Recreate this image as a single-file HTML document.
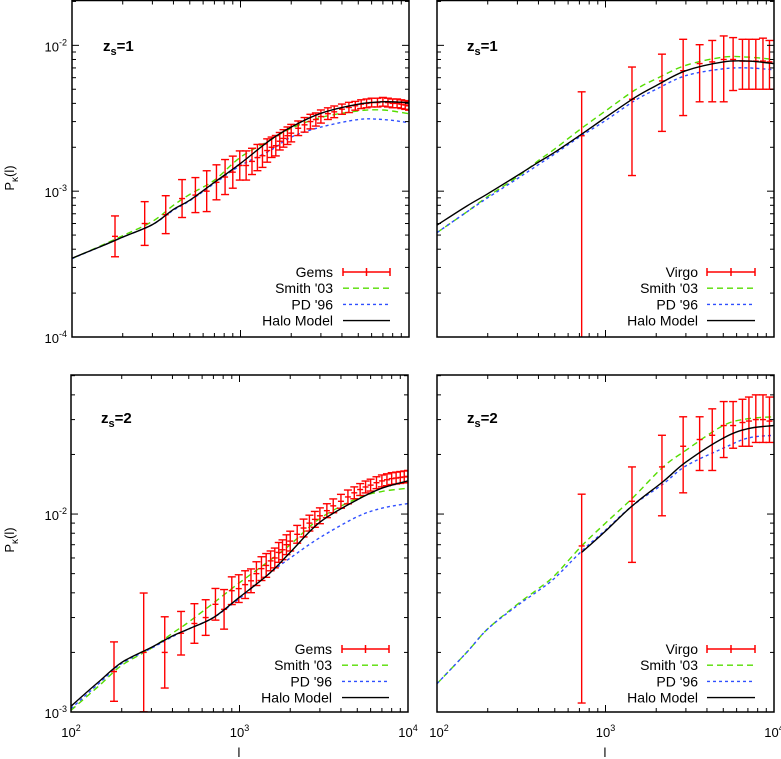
<!DOCTYPE html>
<html><head><meta charset="utf-8">
<style>
html,body{margin:0;padding:0;background:#fff;}
svg{display:block;font-family:"Liberation Sans",sans-serif;}
</style></head>
<body>
<svg id="fig" width="781" height="759" viewBox="0 0 781 759" xmlns="http://www.w3.org/2000/svg"></svg>
<script>
// ---------- data ----------
const modelL = [100,150,200,300,400,500,700,1000,1500,2000,3000,5000,7000,10000];
// top-left (z=1, Gems)
const tlHalo  = [3.47e-4,4.2e-4,4.84e-4,5.9e-4,7.5e-4,8.67e-4,1.15e-3,1.55e-3,2.24e-3,2.75e-3,3.42e-3,3.95e-3,4.1e-3,4.05e-3];
const tlSmith = [3.45e-4,4.25e-4,4.95e-4,6.2e-4,8.0e-4,9.5e-4,1.19e-3,1.71e-3,2.24e-3,2.7e-3,3.2e-3,3.55e-3,3.6e-3,3.4e-3];
const tlPD    = [3.45e-4,4.2e-4,4.84e-4,5.9e-4,7.4e-4,8.6e-4,1.13e-3,1.5e-3,1.9e-3,2.35e-3,2.75e-3,3.1e-3,3.1e-3,2.95e-3];
// bottom-left (z=2, Gems)
const blHalo  = [1.07e-3,1.45e-3,1.78e-3,2.12e-3,2.42e-3,2.63e-3,3.0e-3,3.8e-3,5.0e-3,6.4e-3,9.1e-3,1.18e-2,1.35e-2,1.47e-2];
const blSmith = [1.02e-3,1.38e-3,1.72e-3,2.1e-3,2.5e-3,2.85e-3,3.55e-3,4.5e-3,5.8e-3,7.0e-3,9.5e-3,1.2e-2,1.3e-2,1.35e-2];
const blPD    = [1.04e-3,1.42e-3,1.76e-3,2.1e-3,2.4e-3,2.63e-3,3.0e-3,3.75e-3,5.0e-3,6.0e-3,7.6e-3,9.7e-3,1.07e-2,1.13e-2];
// top-right (z=1, Virgo)
const trHalo  = [5.85e-4,7.9e-4,9.6e-4,1.28e-3,1.58e-3,1.85e-3,2.4e-3,3.2e-3,4.4e-3,5.3e-3,6.7e-3,7.7e-3,7.8e-3,7.5e-3];
const trSmith = [5.2e-4,7.2e-4,9.2e-4,1.25e-3,1.62e-3,1.95e-3,2.63e-3,3.55e-3,4.95e-3,5.9e-3,7.3e-3,8.3e-3,8.3e-3,8.0e-3];
const trPD    = [5.2e-4,7.2e-4,9.0e-4,1.22e-3,1.52e-3,1.8e-3,2.35e-3,3.05e-3,4.2e-3,5.0e-3,6.2e-3,6.9e-3,7.0e-3,6.8e-3];
// bottom-right (z=2, Virgo); halo model starts at l=722
const brModelL = [100,150,200,300,400,500,722,1000,1440,2200,3000,5000,7000,10000];
const brSmith = [1.39e-3,2.0e-3,2.63e-3,3.5e-3,4.2e-3,4.9e-3,6.9e-3,9.0e-3,1.2e-2,1.73e-2,2.1e-2,2.8e-2,3.03e-2,3.1e-2];
const brPD    = [1.39e-3,2.0e-3,2.63e-3,3.45e-3,4.1e-3,4.75e-3,6.5e-3,8.3e-3,1.1e-2,1.42e-2,1.75e-2,2.15e-2,2.42e-2,2.5e-2];
const brHaloL = [722,1000,1440,2200,3000,5000,7000,10000];
const brHalo  = [6.4e-3,8.2e-3,1.1e-2,1.46e-2,1.83e-2,2.42e-2,2.7e-2,2.8e-2];

const gemsL = [180,270,360,450,540,630,720,810,900,990,1080,1170,1260,1350,1440,1530,1620,1710,1800,1900,2000,2200,2400,2600,2800,3000,3300,3600,4000,4400,4800,5200,5600,6000,6500,7000,7500,8000,8500,9000,9500,10000];
const gemsTop = [0.49,0.60,0.69,0.89,0.94,1.0,1.15,1.25,1.35,1.5,1.5,1.6,1.7,1.75,1.9,2.0,2.05,2.2,2.3,2.4,2.5,2.7,2.85,3.0,3.1,3.25,3.4,3.5,3.65,3.75,3.85,3.95,4.0,4.05,4.05,4.1,4.05,4.0,4.0,3.95,3.9,3.85];
const gemsTopErr = [.14,.15,.13,.13,.12,.14,.12,.12,.11,.1,.1,.09,.09,.08,.08,.07,.07,.06,.06,.06,.06,.05,.05,.05,.045,.045,.04,.04,.035,.035,.03,.03,.03,.03,.03,.03,.03,.03,.03,.03,.03,.03];
const gemsBot = [1.6,2.0,2.0,2.5,2.8,3.0,3.5,3.3,4.1,4.2,4.4,4.6,5.0,5.3,5.5,5.8,6.0,6.4,6.6,7.0,7.3,7.9,8.5,9.0,9.4,9.8,10.4,11.0,11.6,12.2,12.8,13.3,13.7,14.0,14.4,14.7,14.9,15.1,15.2,15.3,15.4,15.5];
const gemsBotErr = [.15,.3,.18,.11,.1,.09,.08,.1,.07,.07,.07,.06,.06,.06,.06,.05,.05,.05,.05,.05,.05,.045,.045,.04,.04,.04,.035,.035,.035,.035,.03,.03,.03,.03,.03,.03,.03,.03,.03,.03,.03,.03];

const virgoL = [722,1436,2163,2890,3620,4300,5030,5720,6500,7100,7800,8600,9400];
const virgoTop = [2.4e-3,4.27e-3,5.7e-3,6.7e-3,7.5e-3,7.7e-3,8.0e-3,8.0e-3,7.8e-3,7.8e-3,7.8e-3,7.8e-3,7.7e-3];
const virgoTopHi = [4.8e-3,7.1e-3,8.7e-3,1.1e-2,1.01e-2,1.08e-2,1.16e-2,1.13e-2,1.1e-2,1.1e-2,1.1e-2,1.12e-2,1.08e-2];
const virgoTopLo = [5e-5,1.28e-3,2.57e-3,3.3e-3,4.1e-3,4.1e-3,4.1e-3,4.9e-3,5.0e-3,5.0e-3,5.0e-3,5.0e-3,5.0e-3];
const virgoBot = [6.9e-3,1.16e-2,1.73e-2,2.2e-2,2.38e-2,2.5e-2,2.8e-2,2.8e-2,2.9e-2,2.95e-2,3.0e-2,3.0e-2,2.95e-2];
const virgoBotHi = [1.26e-2,1.73e-2,2.5e-2,3.1e-2,3.1e-2,3.4e-2,3.7e-2,3.7e-2,3.8e-2,3.9e-2,4.0e-2,4.0e-2,3.9e-2];
const virgoBotLo = [1.11e-3,5.7e-3,9.8e-3,1.28e-2,1.66e-2,1.66e-2,1.93e-2,2.15e-2,2.2e-2,2.2e-2,2.3e-2,2.3e-2,2.3e-2];

const xTickLabels = ["2","3","4"];
const yTickTop = ["-4","-3","-2"];
const yTickBot = ["-3","-2"];

// ---------- drawing ----------
const NS = "http://www.w3.org/2000/svg";
const svg = document.getElementById('fig');
function mk(tag, attrs, parent){
  const e = document.createElementNS(NS, tag);
  for (const k in attrs) e.setAttribute(k, attrs[k]);
  (parent||svg).appendChild(e);
  return e;
}
const RED="#ff0000", GREEN="#55dd00", BLUE="#2f4fff";

function panel(id, x0, x1, y0, y1, ymin, ymax){
  const g = mk('g', {});
  
  
  const lx0=2, lx1=4, ly0=Math.log10(ymin), ly1=Math.log10(ymax);
  const X = l => x0 + (Math.log10(l)-lx0)/(lx1-lx0)*(x1-x0);
  const Y = v => y1 - (Math.log10(v)-ly0)/(ly1-ly0)*(y1-y0);
  const cp = mk('clipPath', {id:'cp-'+id}, g);
  mk('rect', {x:x0, y:y0, width:x1-x0, height:y1-y0}, cp);
  const plot = mk('g', {'clip-path':'url(#cp-'+id+')'}, g);
  const tk = mk('g', {stroke:'#000','stroke-width':1}, g);
  
  
  for (let d=2; d<=4; d++) for (let m=1; m<=9; m++){
    const l=m*Math.pow(10,d); if (l>10000) break;
    const x=X(l), len = m===1?7:4;
    mk('line',{x1:x,x2:x,y1:y1,y2:y1-len},tk);
    mk('line',{x1:x,x2:x,y1:y0,y2:y0+len},tk);
  }
  for (let d=Math.floor(ly0); d<=Math.ceil(ly1); d++) for (let m=1; m<=9; m++){
    const v=m*Math.pow(10,d);
    if (v<ymin*0.999 || v>ymax) continue;
    const y=Y(v), len = m===1?7:4;
    mk('line',{x1:x0,x2:x0+len,y1:y,y2:y},tk);
    mk('line',{x1:x1,x2:x1-len,y1:y,y2:y},tk);
  }
  mk('rect',{x:x0,y:y0,width:x1-x0,height:y1-y0,fill:'none',stroke:'#000','stroke-width':1.5},g);
  return {g, plot, X, Y};
}
function curve(p, name, L, V, color, dash){
  const P = L.map((l,i)=>[p.X(l), p.Y(V[i])]);
  let d = 'M'+P[0][0].toFixed(1)+','+P[0][1].toFixed(1);
  for (let i=0;i<P.length-1;i++){
    const p0=P[Math.max(0,i-1)], p1=P[i], p2=P[i+1], p3=P[Math.min(P.length-1,i+2)];
    const c1=[p1[0]+(p2[0]-p0[0])/6, p1[1]+(p2[1]-p0[1])/6];
    const c2=[p2[0]-(p3[0]-p1[0])/6, p2[1]-(p3[1]-p1[1])/6];
    d += ' C'+c1.map(v=>v.toFixed(1)).join(',')+' '+c2.map(v=>v.toFixed(1)).join(',')+' '+p2.map(v=>v.toFixed(1)).join(',');
  }
  const pl = mk('path',{d:d,fill:'none',stroke:color,'stroke-width':1.4,'stroke-dasharray':dash||'none','stroke-linejoin':'round'},p.plot);
  
  
}
function errbars(p, name, L, V, lo, hi){
  const g = mk('g',{stroke:RED,'stroke-width':1.4},p.plot);
  
  
  L.forEach((l,i)=>{
    const x=p.X(l), yc=p.Y(V[i]), yh=p.Y(hi[i]), yl=p.Y(lo[i]);
    mk('line',{x1:x,x2:x,y1:yh,y2:yl},g);
    mk('line',{x1:x-4,x2:x+4,y1:yh,y2:yh},g);
    mk('line',{x1:x-4,x2:x+4,y1:yl,y2:yl},g);
    mk('line',{x1:x-3,x2:x+3,y1:yc,y2:yc},g);
  });
}
function legend(dataLabel, textX, y0, lineX0, lineX1){
  const g = mk('g',{});
  
  
  const labels=[dataLabel,"Smith '03","PD '96","Halo Model"];
  labels.forEach((t,i)=>{
    const y=y0+i*16.2;
    const tx = mk('text',{x:textX,y:y+5,'text-anchor':'end','font-size':14,fill:'#000'},g);
    tx.textContent=t;
    
    
    if (i===0){
      mk('line',{x1:lineX0,x2:lineX1,y1:y,y2:y,stroke:RED,'stroke-width':1.5},g);
      [lineX0,(lineX0+lineX1)/2,lineX1].forEach(x=>mk('line',{x1:x,x2:x,y1:y-4,y2:y+4,stroke:RED,'stroke-width':1.5},g));
    } else {
      const c=[null,GREEN,BLUE,'#000'][i], d=[null,'6,4','3,3','none'][i];
      mk('line',{x1:lineX0,x2:lineX1,y1:y,y2:y,stroke:c,'stroke-width':1.4,'stroke-dasharray':d},g);
    }
  });
}
function zlabel(x,y,n){
  const t = mk('text',{x:x,y:y,'font-size':15,'font-weight':'bold'});
  
  
  t.innerHTML = 'z<tspan font-size="11" dy="4">s</tspan><tspan dy="-4">='+n+'</tspan>';
}
function ylab(x,y,exp){
  const t = mk('text',{x:x,y:y,'font-size':13,'text-anchor':'end'});
  
  
  t.innerHTML = '10<tspan font-size="9" dy="-6">'+exp+'</tspan>';
}
function xlab(x,y,exp){
  const t = mk('text',{x:x,y:y,'font-size':13,'text-anchor':'middle'});
  
  
  t.innerHTML = '10<tspan font-size="9" dy="-6">'+exp+'</tspan>';
}
function ytitle(x,y){
  const t = mk('text',{x:0,y:0,'font-size':13,'text-anchor':'middle',transform:'translate('+x+','+y+') rotate(-90)'});
  
  
  t.innerHTML = 'P<tspan font-size="10" dy="4">κ</tspan><tspan dy="-4">(l)</tspan>';
}
function xtitle(x,y){
  const t = mk('text',{x:x,y:y,'font-size':13,'text-anchor':'middle'});
  
  
  t.textContent='l';
}

// Top-left
let p = panel('panel-top-left', 72, 409, 0.5, 337, 1e-4, 2.03e-2);
curve(p,'smith-curve',modelL,tlSmith,GREEN,'6,4');
curve(p,'pd-curve',modelL,tlPD,BLUE,'3,3');
errbars(p,'gems-errorbars',gemsL,gemsTop.map(v=>v*1e-3),gemsTop.map((v,i)=>v*1e-3/Math.pow(10,gemsTopErr[i])),gemsTop.map((v,i)=>v*1e-3*Math.pow(10,gemsTopErr[i])));
curve(p,'halo-curve',modelL,tlHalo,'#000');
legend('Gems',333,272,343,390);
zlabel(103,51,1);
[1e-4,1e-3,1e-2].forEach((v,i)=>ylab(67,p.Y(v)+6,yTickTop[i]));
ytitle(14,178);

// Top-right
p = panel('panel-top-right', 437, 774, 0.5, 337, 1e-4, 2.03e-2);
curve(p,'smith-curve',modelL,trSmith,GREEN,'6,4');
curve(p,'pd-curve',modelL,trPD,BLUE,'3,3');
errbars(p,'virgo-errorbars',virgoL,virgoTop,virgoTopLo,virgoTopHi);
curve(p,'halo-curve',modelL,trHalo,'#000');
legend('Virgo',698,272,707,755);
zlabel(467,51,1);

// Bottom-left
p = panel('panel-bottom-left', 71, 408, 375, 712, 1e-3, 5.04e-2);
curve(p,'smith-curve',modelL,blSmith,GREEN,'6,4');
curve(p,'pd-curve',modelL,blPD,BLUE,'3,3');
errbars(p,'gems-errorbars',gemsL,gemsBot.map(v=>v*1e-3),gemsBot.map((v,i)=>v*1e-3/Math.pow(10,gemsBotErr[i])),gemsBot.map((v,i)=>v*1e-3*Math.pow(10,gemsBotErr[i])));
curve(p,'halo-curve',modelL,blHalo,'#000');
legend('Gems',332,649,342,389);
zlabel(101,423,2);
[1e-3,1e-2].forEach((v,i)=>ylab(67,p.Y(v)+6,yTickBot[i]));
ytitle(14,540);
[100,1000,10000].forEach((l,i)=>xlab(p.X(l),737,xTickLabels[i]));
xtitle(239,757);

// Bottom-right
p = panel('panel-bottom-right', 437, 774, 375, 712, 1e-3, 5.04e-2);
curve(p,'smith-curve',brModelL,brSmith,GREEN,'6,4');
curve(p,'pd-curve',brModelL,brPD,BLUE,'3,3');
errbars(p,'virgo-errorbars',virgoL,virgoBot,virgoBotLo,virgoBotHi);
curve(p,'halo-curve',brHaloL,brHalo,'#000');
legend('Virgo',698,649,707,755);
zlabel(467,423,2);
[100,1000,10000].forEach((l,i)=>xlab(p.X(l)+(i===0?2:0),737,xTickLabels[i]));
xtitle(605,757);
</script>
</body></html>
